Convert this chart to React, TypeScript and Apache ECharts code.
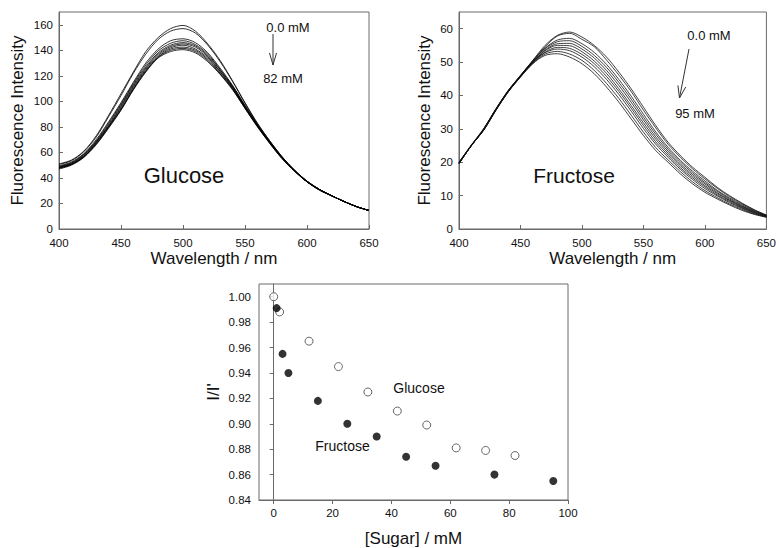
import React, { useEffect, useRef } from "react";
import * as echarts from "echarts";

// ---------- data ----------
const wavelengths = [400, 410, 420, 430, 440, 450, 460, 470, 480, 490, 500, 510, 520, 530, 540, 550, 560, 570, 580, 590, 600, 610, 620, 630, 640, 650];

// Glucose spectra, 0.0 mM -> 82 mM
const glucose0 = [51, 54, 61, 73, 89, 106, 123, 139, 150, 157, 159.5, 155, 145, 132, 116, 99, 83, 69, 56.5, 46, 37.5, 31, 26, 21.5, 17.5, 14.5];
const glucose2 = [50.5, 53.5, 60.5, 72, 88, 104.5, 122, 137, 148.5, 155, 157, 153.5, 144, 131, 115.5, 98.5, 82.5, 69, 56.5, 46, 37.5, 31, 26, 21.5, 17.5, 14.5];
const glucose12 = [49.5, 52.5, 59, 70, 84, 99, 115, 130, 141, 147.5, 149, 146, 138, 126, 112.5, 97, 82, 68.5, 56, 46, 37.5, 31, 26, 21.5, 17.5, 14.5];
const glucose22 = [49, 52, 58.5, 69, 83, 98, 114, 128.5, 139.5, 145.5, 147.5, 144.5, 137, 125, 112, 96.5, 81.5, 68.5, 56, 46, 37.5, 31, 26, 21.5, 17.5, 14.5];
const glucose32 = [48.5, 51.5, 58, 68.5, 82, 97, 113, 127, 138, 144, 146, 143.5, 136, 124.5, 111.5, 96, 81.5, 68, 56, 45.5, 37, 31, 26, 21.5, 17.5, 14.5];
const glucose42 = [48.5, 51, 57.5, 68, 81, 96, 112, 126, 137, 143, 145, 142.5, 135, 123.5, 111, 95.5, 81, 68, 55.5, 45.5, 37, 31, 26, 21.5, 17.5, 14.5];
const glucose52 = [48, 51, 57, 67.5, 80.5, 95, 111, 125, 136, 142, 144, 141, 134, 123, 110.5, 95.5, 81, 67.5, 55.5, 45.5, 37, 31, 26, 21.5, 17.5, 14.5];
const glucose62 = [48, 50.5, 56.5, 67, 80, 94, 110, 124, 135, 141, 142.5, 140, 133, 122, 110, 95, 80.5, 67.5, 55.5, 45.5, 37, 30.5, 26, 21.5, 17.5, 14.5];
const glucose72 = [47.5, 50.5, 56.5, 66.5, 79.5, 93.5, 109.5, 123.5, 134.5, 140, 141.5, 139, 132, 121.5, 109.5, 94.5, 80.5, 67, 55, 45.5, 37, 30.5, 26, 21.5, 17.5, 14.5];
const glucose82 = [47, 50, 56, 66, 79, 93, 109, 123, 134, 139, 140.5, 138, 131, 121, 109, 94.5, 80, 67, 55, 45, 37, 30.5, 26, 21.5, 17.5, 14.5];
const glucoseSpectra = [glucose0, glucose2, glucose12, glucose22, glucose32, glucose42, glucose52, glucose62, glucose72, glucose82];

// Fructose spectra, 0.0 mM -> 95 mM
const fructose0 = [20, 25, 30, 36, 41.5, 46, 50.5, 55, 58, 59, 57.5, 55, 51.5, 47, 42, 36.5, 31, 26, 22, 18.5, 15.5, 12.5, 10, 7.8, 5.8, 4.2];
const fructose1 = [20, 25.2, 30, 35.9, 41.4, 46, 50.4, 54.6, 57.8, 58.6, 56.8, 54.6, 50.6, 46.1, 41.2, 35.6, 30.3, 25.4, 21.5, 18, 15, 12.2, 9.7, 7.6, 5.7, 4.1];
const fructose3 = [19.9, 25, 29.9, 35.9, 41.4, 45.9, 50.3, 54.2, 56.6, 57.1, 55.5, 52.9, 49.3, 44.8, 39.8, 34.4, 29.1, 24.5, 20.6, 17.3, 14.4, 11.6, 9.3, 7.3, 5.5, 4];
const fructose5 = [19.8, 24.9, 29.8, 35.8, 41.3, 45.8, 50.2, 54, 56.1, 56.4, 54.7, 52, 48.4, 43.9, 38.9, 33.5, 28.4, 23.9, 20.1, 16.8, 13.9, 11.3, 9, 7, 5.3, 4];
const fructose15 = [19.8, 25, 29.8, 35.8, 41.3, 45.8, 50, 53.6, 55.5, 55.6, 53.9, 51.2, 47.5, 43, 38, 32.7, 27.6, 23.3, 19.5, 16.3, 13.5, 10.9, 8.7, 6.8, 5.2, 3.9];
const fructose25 = [19.7, 25, 29.7, 35.7, 41.2, 45.7, 49.9, 53.4, 55, 54.9, 53.1, 50.3, 46.6, 42, 37, 31.8, 26.9, 22.7, 19, 15.8, 13, 10.6, 8.5, 6.6, 5, 3.8];
const fructose35 = [19.7, 24.9, 29.7, 35.7, 41.2, 45.7, 49.9, 53, 54.4, 54.1, 52.3, 49.5, 45.7, 41.2, 36.2, 31, 26.1, 22.1, 18.4, 15.3, 12.6, 10.2, 8.2, 6.4, 4.9, 3.7];
const fructose45 = [19.6, 25, 29.6, 35.6, 41.1, 45.6, 49.8, 52.8, 53.9, 53.4, 51.5, 48.6, 44.8, 40.3, 35.3, 30.1, 25.4, 21.5, 17.9, 14.8, 12.1, 9.9, 7.9, 6.2, 4.7, 3.7];
const fructose75 = [19.6, 25, 29.6, 35.6, 41.1, 45.6, 49.6, 52.4, 53.2, 52.4, 50.5, 47.5, 43.6, 39.1, 34.1, 29, 24.4, 20.7, 17.2, 14.1, 11.5, 9.4, 7.5, 5.9, 4.5, 3.6];
const fructose95 = [19.5, 25, 29.5, 35.5, 41, 45.5, 49.5, 52, 52.5, 51.5, 49.5, 46.5, 42.5, 38, 33, 28, 23.5, 20, 16.5, 13.5, 11, 9, 7.2, 5.6, 4.4, 3.5];
const fructoseSpectra = [fructose0, fructose1, fructose3, fructose5, fructose15, fructose25, fructose35, fructose45, fructose75, fructose95];

// I/I' vs [Sugar]
const glucoseConc = [0, 2, 12, 22, 32, 42, 52, 62, 72, 82];
const glucoseRatio = [1.0, 0.988, 0.965, 0.945, 0.925, 0.91, 0.899, 0.881, 0.879, 0.875];
const fructoseConc = [1, 3, 5, 15, 25, 35, 45, 55, 75, 95];
const fructoseRatio = [0.991, 0.955, 0.94, 0.918, 0.9, 0.89, 0.874, 0.867, 0.86, 0.855];

// tick labels
const wavelengthTicks = [400, 450, 500, 550, 600, 650];
const glucoseIntensityTicks = [0, 20, 40, 60, 80, 100, 120, 140, 160];
const fructoseIntensityTicks = [0, 10, 20, 30, 40, 50, 60];
const sugarTicks = [0, 20, 40, 60, 80, 100];
const ratioTicks = [0.84, 0.86, 0.88, 0.9, 0.92, 0.94, 0.96, 0.98, 1.0];

const FONT = '"Liberation Sans", Arial, Helvetica, sans-serif';
const AXIS_COLOR = "#6a6a6a";

function valueAxis(gridIndex: number, min: number, max: number, ticks: number[], opts: any = {}) {
  return {
    type: "value",
    gridIndex,
    min,
    max,
    axisLine: { show: true, lineStyle: { color: AXIS_COLOR, width: 1 } },
    axisTick: {
      show: true,
      inside: opts.tickInside ?? false,
      length: 4,
      customValues: ticks,
      lineStyle: { color: AXIS_COLOR },
    },
    axisLabel: {
      customValues: ticks,
      color: "#111",
      fontSize: 11.5,
      fontFamily: FONT,
      margin: opts.labelMargin ?? 7,
      formatter: opts.formatter,
    },
    splitLine: { show: false },
    name: opts.name,
    nameLocation: "middle",
    nameGap: opts.nameGap,
    nameTextStyle: { fontSize: 17, fontFamily: FONT, color: "#111" },
  };
}

export default function App() {
  const ref = useRef<HTMLDivElement>(null);

  useEffect(() => {
    if (!ref.current) return;
    const chart = echarts.init(ref.current, undefined, { renderer: "svg" });

    const lineSeries = (spectra: number[][], idx: number, color: string) =>
      spectra.map((curve) => ({
        type: "line",
        xAxisIndex: idx,
        yAxisIndex: idx,
        data: wavelengths.map((w, i) => [w, curve[i]]),
        showSymbol: false,
        smooth: 0.3,
        lineStyle: { color, width: 0.8 },
        silent: true,
      }));

    const text = (t: string, x: number, y: number, size: number) => ({
      type: "text",
      x,
      y,
      style: {
        text: t,
        fontSize: size,
        fontFamily: FONT,
        fill: "#111",
        align: "center",
        verticalAlign: "middle",
      },
    });

    const option: any = {
      animation: false,
      backgroundColor: "#fff",
      grid: [
        { left: 59, top: 12, width: 310, height: 217, show: true, borderColor: AXIS_COLOR, borderWidth: 1, backgroundColor: "transparent" },
        { left: 459, top: 12, width: 309, height: 217, show: true, borderColor: AXIS_COLOR, borderWidth: 1, backgroundColor: "transparent" },
        { left: 259, top: 284, width: 309, height: 216, show: true, borderColor: AXIS_COLOR, borderWidth: 1, backgroundColor: "transparent" },
      ],
      xAxis: [
        valueAxis(0, 400, 650, wavelengthTicks, { tickInside: true, labelMargin: 8, name: "Wavelength / nm", nameGap: 21 }),
        valueAxis(1, 400, 650, wavelengthTicks, { tickInside: true, labelMargin: 8, name: "Wavelength / nm", nameGap: 21 }),
        valueAxis(2, -5, 100, sugarTicks, { labelMargin: 7, name: "[Sugar] / mM", nameGap: 30 }),
      ],
      yAxis: [
        valueAxis(0, 0, 170, glucoseIntensityTicks, { tickInside: true, labelMargin: 6, name: "Fluorescence Intensity", nameGap: 33 }),
        valueAxis(1, 0, 65, fructoseIntensityTicks, { tickInside: true, labelMargin: 6, name: "Fluorescence Intensity", nameGap: 26 }),
        valueAxis(2, 0.84, 1.01, ratioTicks, {
          labelMargin: 8,
          name: "I/I'",
          nameGap: 37,
          formatter: (v: number) => v.toFixed(2),
        }),
      ],
      series: [
        ...lineSeries(glucoseSpectra, 0, "#000"),
        ...lineSeries(fructoseSpectra, 1, "#111"),
        {
          type: "scatter",
          xAxisIndex: 2,
          yAxisIndex: 2,
          data: glucoseConc.map((c, i) => [c, glucoseRatio[i]]),
          symbol: "circle",
          symbolSize: 8,
          itemStyle: { color: "#fff", borderColor: "#444", borderWidth: 1 },
        },
        {
          type: "scatter",
          xAxisIndex: 2,
          yAxisIndex: 2,
          data: fructoseConc.map((c, i) => [c, fructoseRatio[i]]),
          symbol: "circle",
          symbolSize: 8,
          itemStyle: { color: "#000" },
        },
      ],
      graphic: [
        text("0.0 mM", 288, 27, 13),
        text("82 mM", 283, 78, 13),
        { type: "line", shape: { x1: 273, y1: 34, x2: 273, y2: 65 }, style: { stroke: "#333", lineWidth: 1 } },
        { type: "polyline", shape: { points: [[269.5, 53], [273, 65], [276.5, 53]] }, style: { stroke: "#333", lineWidth: 1, fill: "none" } },
        text("Glucose", 184, 175, 22),

        text("0.0 mM", 709, 35, 13),
        text("95 mM", 695, 113, 13),
        { type: "line", shape: { x1: 689, y1: 49, x2: 679.5, y2: 98 }, style: { stroke: "#333", lineWidth: 1 } },
        { type: "polyline", shape: { points: [[685.7, 87], [679.5, 98], [677.9, 85.4]] }, style: { stroke: "#333", lineWidth: 1, fill: "none" } },
        text("Fructose", 574, 175, 21),

        text("Glucose", 419, 388, 14),
        text("Fructose", 342.5, 446, 14),
      ],
    };

    chart.setOption(option);
    return () => chart.dispose();
  }, []);

  return (
    <div
      ref={ref}
      style={{ position: "absolute", left: 0, top: 0, width: 779, height: 548, background: "#fff" }}
    />
  );
}
